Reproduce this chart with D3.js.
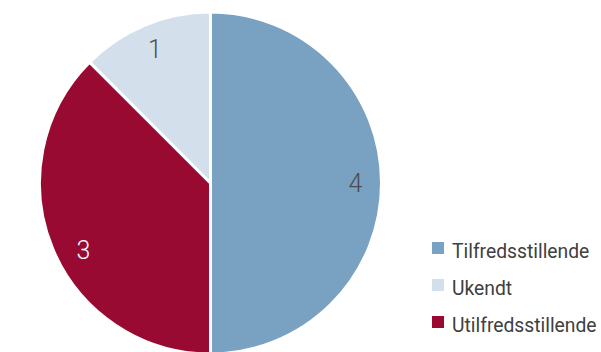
<!DOCTYPE html>
<html>
<head>
<meta charset="utf-8">
<script src="https://cdn.jsdelivr.net/npm/d3@7"></script>
<style>
  html, body { margin: 0; padding: 0; background: #fff; }
  svg { display: block; }
</style>
</head>
<body>
<svg id="chart" width="601" height="352"></svg>
<script>
// Slice order as drawn clockwise from 12 o'clock
const sliceNames  = ["Tilfredsstillende", "Utilfredsstillende", "Ukendt"];
const sliceValues = [4, 3, 1];
const sliceColors = ["#79a1c2", "#990a33", "#d3e0ec"];
const labelColors = ["#4d4d4d", "#ffffff", "#4d4d4d"];

// Legend order
const legendNames  = ["Tilfredsstillende", "Ukendt", "Utilfredsstillende"];

const svg = d3.select("#chart");
const cx = 210.5, cy = 183, radius = 171;

const pie = d3.pie().sort(null).value(d => d.value);
const data = sliceNames.map((name, i) => ({ name, value: sliceValues[i], color: sliceColors[i], label: labelColors[i] }));
const arcs = pie(data);

const arc = d3.arc().innerRadius(0).outerRadius(radius);
const labelArc = d3.arc().innerRadius(145).outerRadius(145);

// Small placement tweaks so each value label sits clear of the slice edges
const labelNudge = { "Utilfredsstillende": [7, 12] };

const g = svg.append("g").attr("transform", `translate(${cx},${cy})`);

g.selectAll("path.slice")
  .data(arcs)
  .join("path")
  .attr("class", "slice")
  .attr("d", arc)
  .attr("fill", d => d.data.color)
  .attr("stroke", "#fff")
  .attr("stroke-width", 3)
  .attr("stroke-linejoin", "miter");

g.selectAll("text.value")
  .data(arcs)
  .join("text")
  .attr("class", "value")
  .attr("transform", d => {
    const [x, y] = labelArc.centroid(d);
    const [nx, ny] = labelNudge[d.data.name] || [0, 0];
    return `translate(${x + nx},${y + ny})`;
  })
  .attr("text-anchor", "middle")
  .attr("dominant-baseline", "central")
  .attr("font-family", "Roboto, sans-serif")
  .attr("font-weight", 300)
  .attr("font-size", 25)
  .attr("fill", d => d.data.label)
  .text(d => d.data.value);

// Legend
const colorOf = d3.scaleOrdinal().domain(sliceNames).range(sliceColors);
const legend = svg.append("g").attr("transform", "translate(432,242)");
const rows = legend.selectAll("g.row")
  .data(legendNames)
  .join("g")
  .attr("class", "row")
  .attr("transform", (d, i) => `translate(0,${i * 37})`);

rows.append("rect")
  .attr("width", 12)
  .attr("height", 12)
  .attr("fill", d => colorOf(d));

rows.append("text")
  .attr("x", 20)
  .attr("y", 16)
  .attr("font-family", "Roboto, sans-serif")
  .attr("font-size", 19.3)
  .attr("fill", "#404040")
  .text(d => d);
</script>
</body>
</html>
